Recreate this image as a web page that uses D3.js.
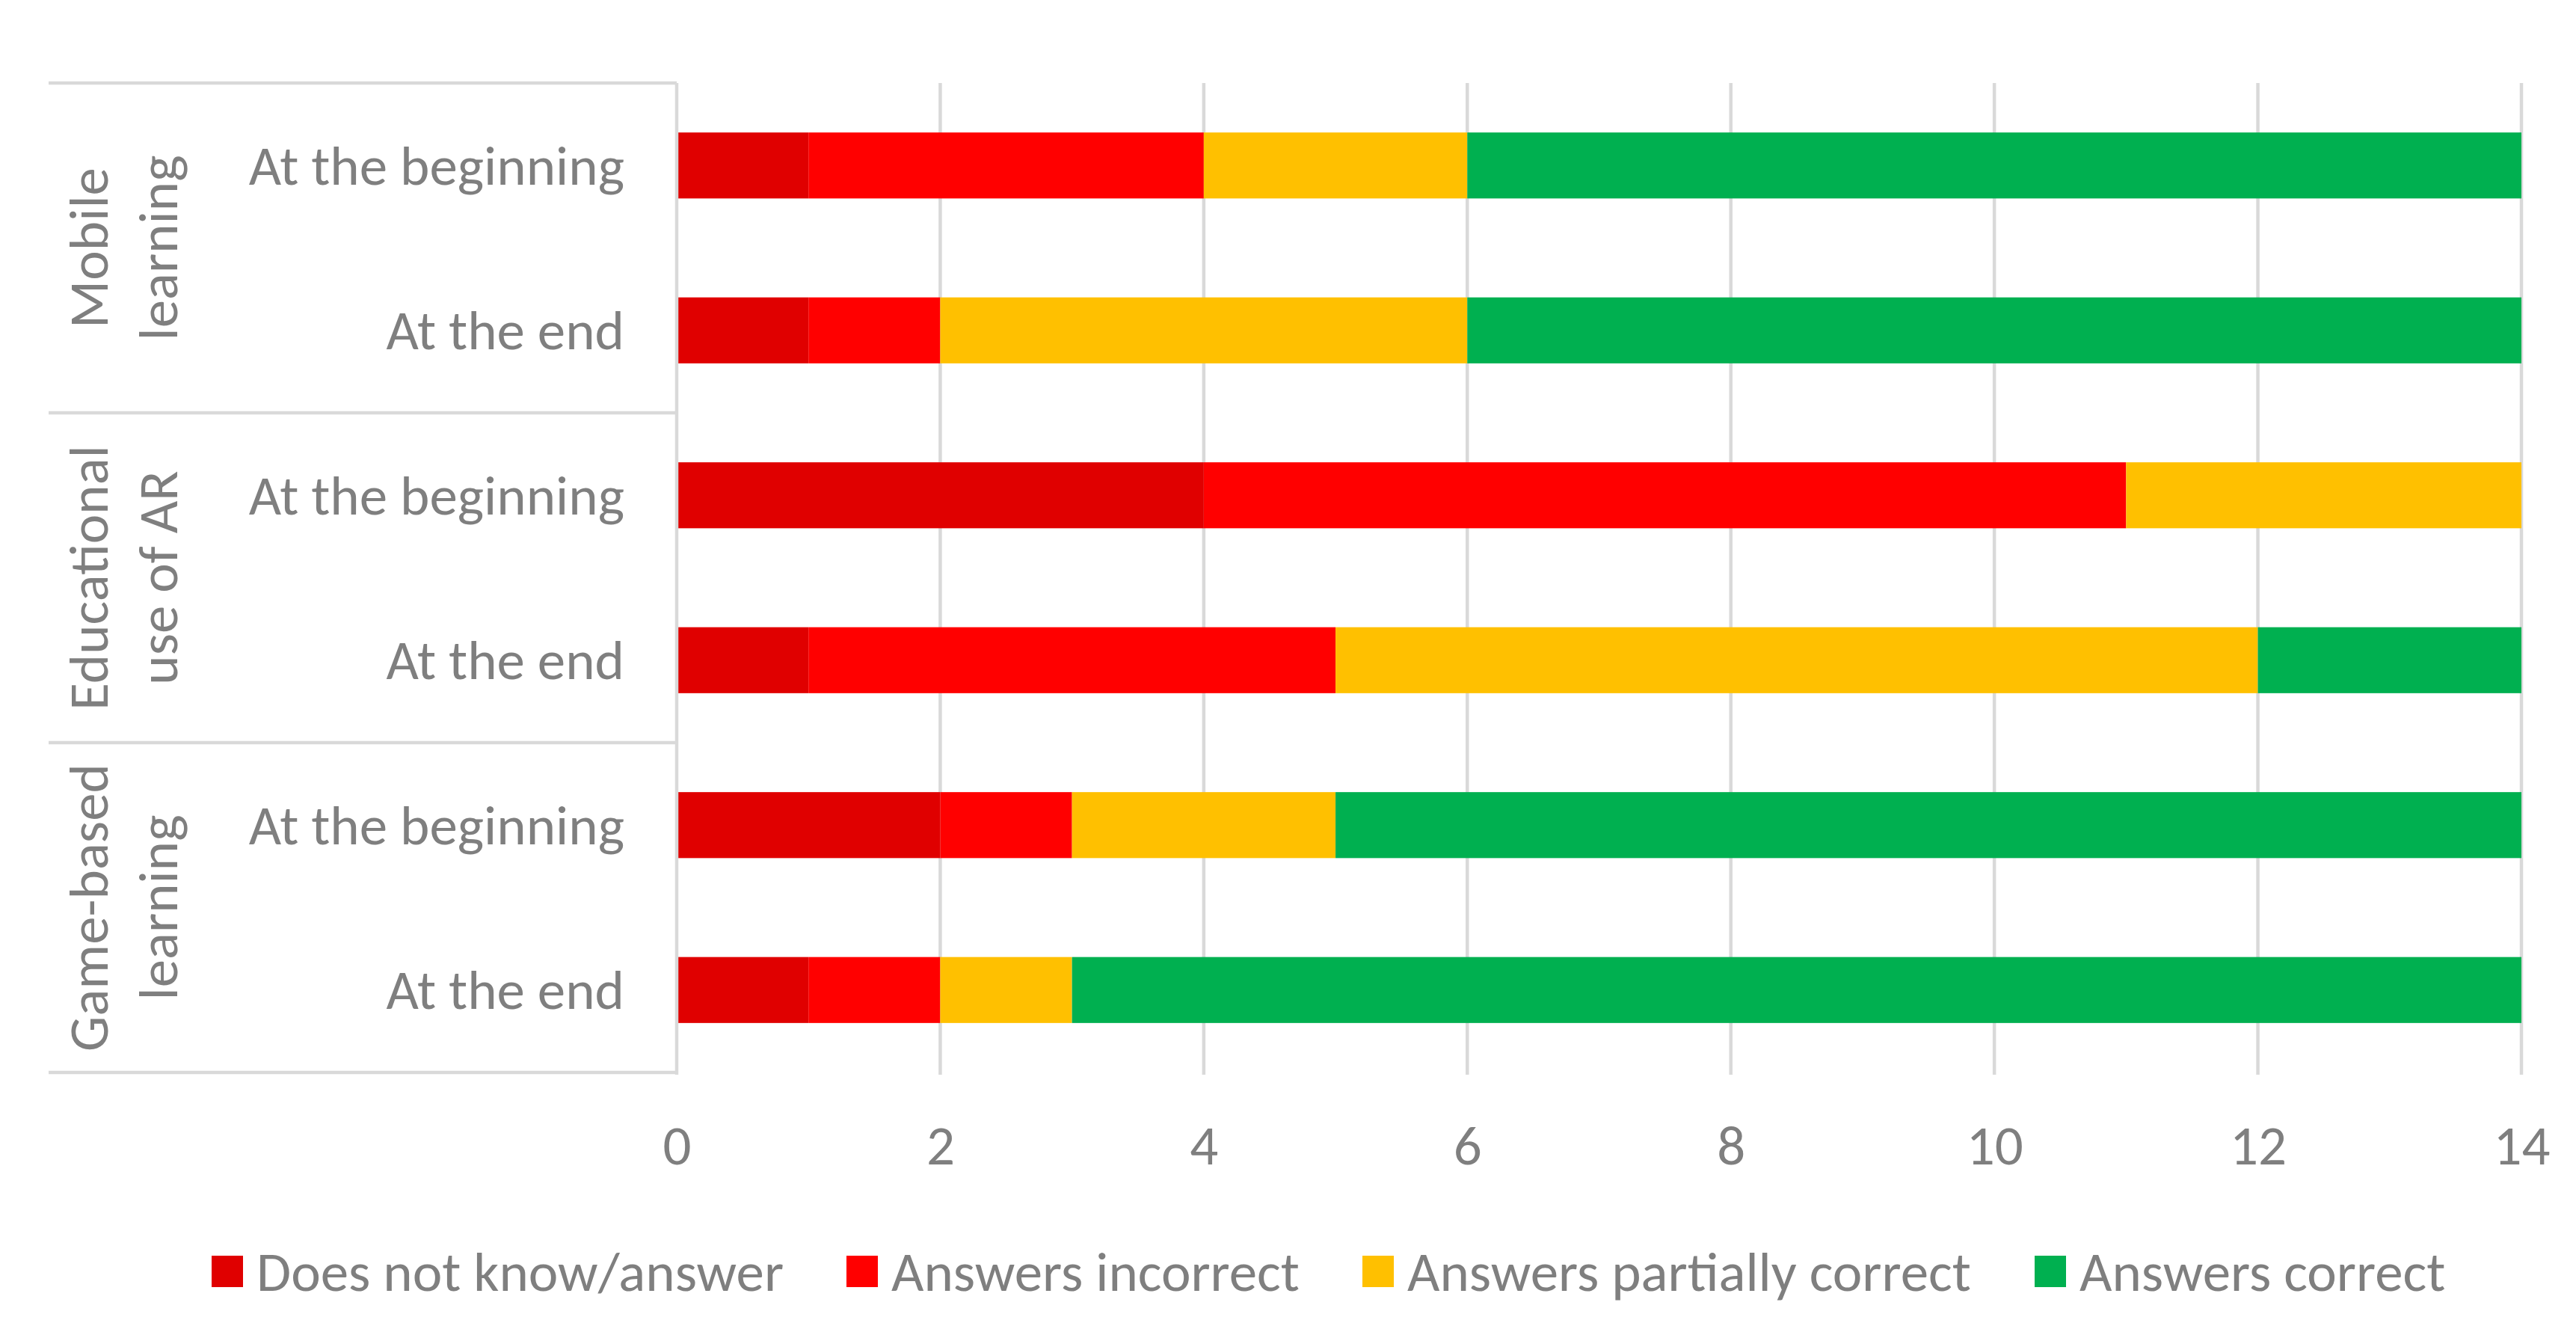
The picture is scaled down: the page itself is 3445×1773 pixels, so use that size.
<!DOCTYPE html>
<html>
<head>
<meta charset="utf-8">
<script src="https://cdn.jsdelivr.net/npm/d3@7"></script>
<style>
  body { margin: 0; background: #fff; }
  text { font-family: Carlito, Calibri, Lato, sans-serif; fill: #7f7f7f; }
</style>
</head>
<body>
<div class="card"></div>
<script>
// chart data
var groups = [["Mobile", "learning"], ["Educational", "use of AR"], ["Game-based", "learning"]];
var moments = ["At the beginning", "At the end"];
var series = ["Does not know/answer", "Answers incorrect", "Answers partially correct", "Answers correct"];
var colors = ["#e00000", "#ff0000", "#ffc000", "#00b050"];
var dontKnow = [1, 1, 4, 1, 2, 1];
var incorrect = [3, 1, 7, 4, 1, 1];
var partial = [2, 4, 3, 7, 2, 1];
var correct = [8, 8, 0, 2, 9, 11];
var ticks = [0, 2, 4, 6, 8, 10, 12, 14];

var width = 3445, height = 1773;
var plot = { left: 905, right: 3372, top: 111, bottom: 1434 };
var fontSize = '75px';

var rows = [];
groups.forEach((g, gi) => moments.forEach((m, mi) => rows.push({ key: gi + "-" + mi, group: gi, label: m })));
rows.forEach((r, i) => {
  r.values = [dontKnow[i], incorrect[i], partial[i], correct[i]];
});

var svg = d3.select('.card')
  .append('svg')
  .attr('width', width)
  .attr('height', height);

var x = d3.scaleLinear().domain([0, 14]).range([plot.left, plot.right]);
var y = d3.scaleBand()
  .domain(rows.map(d => d.key))
  .range([plot.top, plot.bottom])
  .paddingInner(0.6)
  .paddingOuter(0.3);
var groupScale = d3.scaleBand()
  .domain(d3.range(groups.length))
  .range([plot.top, plot.bottom]);

// gridlines
svg.append('g')
  .selectAll('line')
  .data(ticks.slice(1))
  .enter()
  .append('line')
  .attr('x1', d => x(d)).attr('x2', d => x(d))
  .attr('y1', plot.top).attr('y2', plot.bottom + 3)
  .attr('stroke', '#d9d9d9')
  .attr('stroke-width', 4.5);

// stacked bars
var stacked = rows.map(r => {
  var acc = 0;
  return r.values.map((v, si) => {
    var s = { row: r.key, series: si, x0: acc, x1: acc + v };
    acc += v;
    return s;
  });
});

svg.append('g')
  .selectAll('rect')
  .data(stacked.flat().filter(d => d.x1 > d.x0))
  .enter()
  .append('rect')
  .attr('x', d => x(d.x0))
  .attr('y', d => y(d.row))
  .attr('width', d => x(d.x1) - x(d.x0))
  .attr('height', y.bandwidth())
  .attr('fill', d => colors[d.series]);

// category axis lines
var axisG = svg.append('g').attr('stroke', '#d9d9d9').attr('stroke-width', 4.5);
axisG.append('line')
  .attr('x1', plot.left).attr('x2', plot.left)
  .attr('y1', plot.top).attr('y2', plot.bottom + 3);
axisG.selectAll('.sep')
  .data(d3.range(groups.length + 1))
  .enter()
  .append('line')
  .attr('x1', 65).attr('x2', plot.left)
  .attr('y1', d => d < groups.length ? groupScale(d) : plot.bottom)
  .attr('y2', d => d < groups.length ? groupScale(d) : plot.bottom);

// row labels
svg.append('g')
  .selectAll('text')
  .data(rows)
  .enter()
  .append('text')
  .attr('x', 835)
  .attr('y', d => y(d.key) + y.bandwidth() / 2)
  .attr('dy', '0.34em')
  .attr('text-anchor', 'end')
  .style('font-size', fontSize)
  .text(d => d.label);

// group labels (rotated)
var gl = svg.append('g')
  .selectAll('g')
  .data(groups)
  .enter()
  .append('g')
  .attr('transform', (d, i) => `translate(0, ${groupScale(i) + groupScale.bandwidth() / 2}) rotate(-90)`);
gl.append('text')
  .attr('text-anchor', 'middle')
  .style('font-size', fontSize)
  .selectAll('tspan')
  .data(d => d)
  .enter()
  .append('tspan')
  .attr('x', 0)
  .attr('y', (d, i) => 144 + i * 93)
  .text(d => d);

// value axis
var xAxis = d3.axisBottom(x).tickValues(ticks).tickSize(0).tickPadding(0);
var xg = svg.append('g')
  .attr('transform', `translate(0, 1531)`)
  .call(xAxis);
xg.select('.domain').remove();
xg.selectAll('text')
  .attr('dy', '0.34em')
  .attr('fill', '#7f7f7f')
  .style('font-size', fontSize)
  .style('font-family', 'Carlito, Calibri, Lato, sans-serif');

// legend
var legendX = [283, 1132, 1822, 2721];
var lg = svg.append('g')
  .selectAll('g')
  .data(series)
  .enter()
  .append('g')
  .attr('transform', (d, i) => `translate(${legendX[i]}, 1700)`);
lg.append('rect')
  .attr('x', 0).attr('y', -21)
  .attr('width', 42).attr('height', 42)
  .attr('fill', (d, i) => colors[i]);
lg.append('text')
  .attr('x', 60)
  .attr('dy', '0.34em')
  .style('font-size', fontSize)
  .text(d => d);
</script>
</body>
</html>
